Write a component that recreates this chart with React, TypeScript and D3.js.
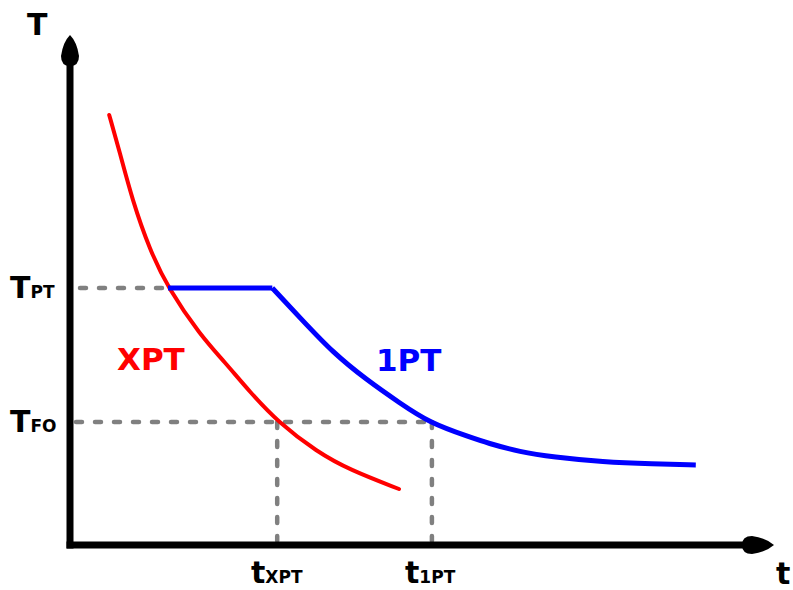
import React from "react";
import * as d3 from "d3";

// Curve data (time t, temperature T) in arbitrary units
const xptT = [5.6, 7.1, 8.9, 11.4, 14, 18.6, 22.1, 25.7, 29.7, 35.3, 40, 47];
const xptTemp = [86, 78.6, 69, 59, 51.4, 42, 36.6, 30.6, 24.6, 18.6, 15, 11.2];

const onePtFlatT = [14, 28.9];
const onePtT = [28.9, 32.9, 37.6, 42.4, 47.1, 51.4, 57.1, 59.6, 64.3, 69, 76.1, 83.3, 89.4];
const onePtTemp = [51.4, 45.4, 38.4, 33, 28.4, 24.4, 21.6, 20.4, 18.6, 17.6, 16.6, 16.2, 16];

const T_PT = 51.4;
const T_FO = 24.6;
const t_XPT = 29.6;
const t_1PT = 51.7;

const W = 793;
const H = 590;

export default function App() {
  const x = d3.scaleLinear().domain([0, 100]).range([70, 770]);
  const y = d3.scaleLinear().domain([0, 100]).range([545, 45]);

  const line = d3
    .line<[number, number]>()
    .x((d) => x(d[0]))
    .y((d) => y(d[1]))
    .curve(d3.curveBasis);
  const straight = d3
    .line<[number, number]>()
    .x((d) => x(d[0]))
    .y((d) => y(d[1]));

  const redPts: [number, number][] = xptT.map((t, i) => [t, xptTemp[i]]);
  const bluePts: [number, number][] = onePtT.map((t, i) => [t, onePtTemp[i]]);
  const flatPts: [number, number][] = onePtFlatT.map((t) => [t, T_PT]);

  const x0 = x(0);
  const y0 = y(0);
  const dash = { stroke: "#808080", strokeWidth: 4.5, strokeDasharray: "6 13", strokeLinecap: "round" as const, fill: "none" };
  const font = "'DejaVu Sans', sans-serif";

  return (
    <svg width={W} height={H} style={{ position: "absolute", left: 0, top: 0, background: "#fff" }}>
      {/* dashed guides */}
      <line x1={x0 + 10} x2={x(onePtFlatT[0])} y1={y(T_PT)} y2={y(T_PT)} {...dash} />
      <line x1={x0 + 6} x2={x(t_1PT)} y1={y(T_FO)} y2={y(T_FO)} {...dash} />
      <line x1={x(t_XPT)} x2={x(t_XPT)} y1={y(T_FO)} y2={y0 - 4} {...dash} />
      <line x1={x(t_1PT)} x2={x(t_1PT)} y1={y(T_FO)} y2={y0 - 4} {...dash} />

      {/* curves */}
      <path d={line(redPts) || ""} fill="none" stroke="#ff0000" strokeWidth={4} strokeLinecap="round" />
      <path d={straight(flatPts) || ""} fill="none" stroke="#0000ff" strokeWidth={5} />
      <path d={line(bluePts) || ""} fill="none" stroke="#0000ff" strokeWidth={5} strokeLinejoin="round" />

      {/* axes */}
      <line x1={x0} x2={x0} y1={y0 + 3.5} y2={62} stroke="#000" strokeWidth={7} />
      <line x1={x0 - 3.5} x2={748} y1={y0} y2={y0} stroke="#000" strokeWidth={7} />
      <path
        d={`M${x0},35 Q${x0 + 7},42 ${x0 + 9},56 Q${x0 + 9},66 ${x0},66 Q${x0 - 9},66 ${x0 - 9},56 Q${x0 - 7},42 ${x0},35 Z`}
        fill="#000"
      />
      <path
        d={`M774,${y0} Q766,${y0 + 7} 752,${y0 + 9} Q742,${y0 + 9} 742,${y0} Q742,${y0 - 9} 752,${y0 - 9} Q766,${y0 - 7} 774,${y0} Z`}
        fill="#000"
      />

      {/* labels */}
      <g fontFamily={font} fontWeight="bold" fill="#000">
        <text x={27} y={35} fontSize={30}>T</text>
        <text x={776} y={584} fontSize={30}>t</text>
        <text x={10} y={298} fontSize={30}>
          T<tspan fontSize={17}>PT</tspan>
        </text>
        <text x={10} y={432} fontSize={30}>
          T<tspan fontSize={17}>FO</tspan>
        </text>
        <text x={251} y={583} fontSize={30}>
          t<tspan fontSize={17}>XPT</tspan>
        </text>
        <text x={405} y={583} fontSize={30}>
          t<tspan fontSize={17}>1PT</tspan>
        </text>
      </g>
      <text x={117} y={370} fontFamily={font} fontWeight="bold" fontSize={31} fill="#ff0000">XPT</text>
      <text x={376} y={371} fontFamily={font} fontWeight="bold" fontSize={31} fill="#0000ff">1PT</text>
    </svg>
  );
}
